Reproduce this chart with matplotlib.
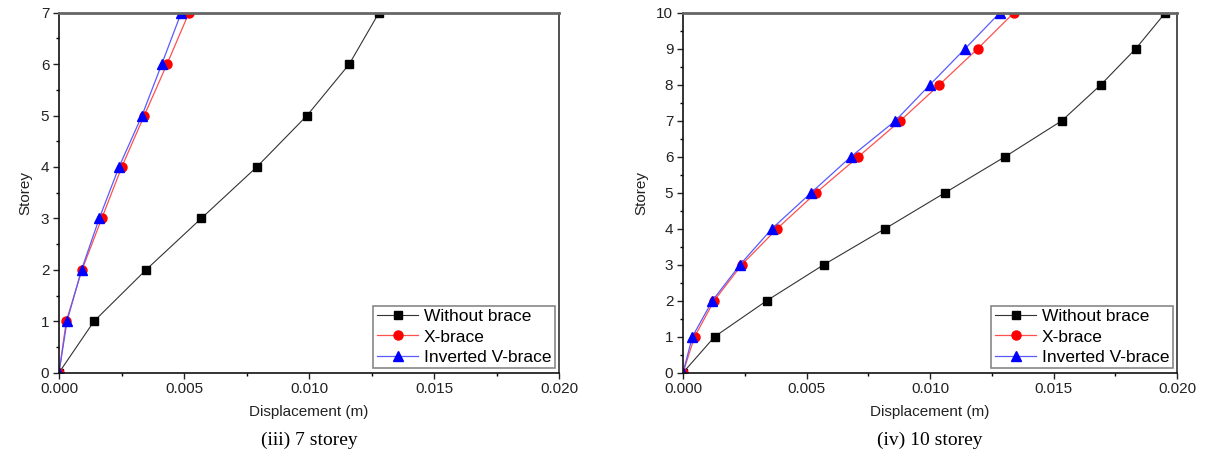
import matplotlib.pyplot as plt
import numpy as np
from matplotlib.ticker import MultipleLocator, FormatStrFormatter

# 7 storey
storey_7 = [0, 1, 2, 3, 4, 5, 6, 7]
no_brace_7 = [0.0, 0.0014, 0.00348, 0.00569, 0.00791, 0.00992, 0.01161, 0.0128]
x_brace_7 = [0.0, 0.00029, 0.00092, 0.00171, 0.00251, 0.00341, 0.00432, 0.0052]
v_brace_7 = [0.0, 0.00032, 0.0009, 0.00161, 0.0024, 0.00332, 0.00411, 0.00489]

# 10 storey
storey_10 = [0, 1, 2, 3, 4, 5, 6, 7, 8, 9, 10]
no_brace_10 = [0.0, 0.00128, 0.00339, 0.0057, 0.00818, 0.01061, 0.01304,
               0.01534, 0.01692, 0.01833, 0.01953]
x_brace_10 = [0.0, 0.00047, 0.00126, 0.00238, 0.00381, 0.00539, 0.0071,
              0.0088, 0.01038, 0.01193, 0.0134]
v_brace_10 = [0.0, 0.00038, 0.00119, 0.00231, 0.0036, 0.00519, 0.0068,
              0.0086, 0.0100, 0.01142, 0.01283]

labels = ["Without brace", "X-brace", "Inverted V-brace"]
captions = ["(iii) 7 storey", "(iv) 10 storey"]

plt.rcParams["font.family"] = ["Liberation Sans", "DejaVu Sans"]

fig = plt.figure(figsize=(12.05, 4.62), dpi=100)
ax1 = fig.add_axes([59 / 1205, 89.3 / 462, 500 / 1205, 360 / 462])
ax2 = fig.add_axes([683 / 1205, 89.3 / 462, 494 / 1205, 360 / 462])


def draw(ax, storey, nb, xb, vb, ymax, caption):
    ax.plot(nb, storey, color="#333333", lw=0.8, marker="s", ms=6,
            mfc="black", mec="black", label=labels[0])
    ax.plot(xb, storey, color="#ff5050", lw=0.9, marker="o", ms=6.5,
            mfc="red", mec="red", label=labels[1])
    ax.plot(vb, storey, color="#5a5aff", lw=0.9, marker="^", ms=7,
            mfc="blue", mec="blue", label=labels[2])

    ax.set_xlim(0, 0.02)
    ax.set_ylim(0, ymax)
    ax.xaxis.set_major_locator(MultipleLocator(0.005))
    ax.xaxis.set_minor_locator(MultipleLocator(0.0025))
    ax.xaxis.set_major_formatter(FormatStrFormatter("%.3f"))
    ax.yaxis.set_major_locator(MultipleLocator(1))
    ax.yaxis.set_minor_locator(MultipleLocator(0.5))
    ax.tick_params(which="major", direction="out", length=4, width=1,
                   labelsize=11, colors="#222222", pad=3)
    ax.tick_params(which="minor", direction="out", length=2.5, width=1)

    for side in ["left", "bottom"]:
        ax.spines[side].set_color("#111111")
        ax.spines[side].set_linewidth(1.2)
    ax.spines["top"].set_color("#666666")
    ax.spines["top"].set_linewidth(2)
    ax.spines["right"].set_color("#333333")
    ax.spines["right"].set_linewidth(1.2)

    ax.set_xlabel("Displacement (m)", fontsize=11, color="#222222", labelpad=6)
    ax.set_ylabel("Storey", fontsize=11, color="#222222", labelpad=6)

    leg = ax.legend(loc="lower right", fontsize=12.5, fancybox=False,
                    edgecolor="#888888", framealpha=1, borderaxespad=0.25,
                    handlelength=2.4, handletextpad=0.3, labelspacing=0.3,
                    borderpad=0.2)
    leg.get_frame().set_linewidth(1.2)

    ax.text(0.5, -0.165, caption, transform=ax.transAxes, ha="center",
            va="top", fontsize=14, family="Liberation Serif", color="black")


draw(ax1, storey_7, no_brace_7, x_brace_7, v_brace_7, 7, captions[0])
draw(ax2, storey_10, no_brace_10, x_brace_10, v_brace_10, 10, captions[1])

fig.savefig("out.png", dpi=100)
